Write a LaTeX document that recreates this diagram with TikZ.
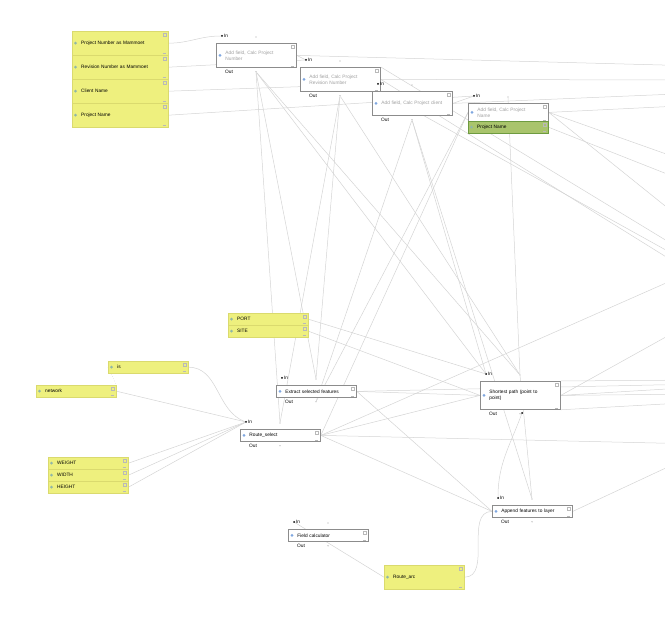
\documentclass[tikz,border=0pt]{standalone}
\usepackage{fontspec}
\setmainfont{Liberation Sans}
\usetikzlibrary{calc,backgrounds}

\definecolor{parfill}{HTML}{EEF07E}
\definecolor{pardraw}{HTML}{DADA6E}
\definecolor{outfill}{HTML}{A9C46C}
\definecolor{outdraw}{HTML}{6E9B40}
\definecolor{wiregray}{HTML}{D4D4D4}
\definecolor{algdraw}{HTML}{8C8C8C}
\definecolor{algtext}{HTML}{A0A0A0}
\definecolor{gearblue}{HTML}{7FA7E0}
\definecolor{plusgreen}{HTML}{8FB6A8}

\begin{document}
\begin{tikzpicture}[x=1pt, y=-1pt,
        font=\fontsize{4.8}{5.8}\selectfont,
        param/.style={rectangle, draw=pardraw, fill=parfill, anchor=north west, minimum width=80, minimum height=12, text width=62, inner xsep=9, inner ysep=0, align=left},
        algo/.style={rectangle, draw=algdraw, fill=white, line width=0.8, anchor=north west, minimum width=80, minimum height=12, text width=62, inner xsep=9, inner ysep=0, align=left},
        result/.style={param, draw=outdraw, fill=outfill},
        wire/.style={draw=wiregray, line width=0.5},
        indot/.style={circle, fill=black, inner sep=0, minimum size=2},
        handle/.style={circle, fill=gray!70, inner sep=0, minimum size=1.4},
        portlbl/.style={inner sep=0, anchor=west},
        deco/.style={draw=gray!55, line width=0.3}
    ]
        \useasboundingbox (0,0) rectangle (665,617);

        % Inputs
        \node[param, minimum width=96, text width=78, minimum height=24] (projnum) at (72,31) {Project Number as Mammoet};
        \node[param, minimum width=96, text width=78, minimum height=24] (revnum) at (72,55) {Revision Number as Mammoet};
        \node[param, minimum width=96, text width=78, minimum height=24] (client) at (72,79) {Client Name};
        \node[param, minimum width=96, text width=78, minimum height=24] (projname) at (72,103) {Project Name};
        \node[param] (port) at (228,313) {PORT};
        \node[param] (site) at (228,325) {SITE};
        \node[param] (is) at (108,361) {is};
        \node[param] (network) at (36,385) {network};
        \node[param] (pweight) at (48,457) {WEIGHT};
        \node[param] (pwidth) at (48,469) {WIDTH};
        \node[param] (pheight) at (48,481) {HEIGHT};
        \node[param, minimum height=24] (routearc) at (384,565) {Route\_arc};

        % Algorithms
        \node[algo, minimum height=24, text=algtext] (calcnum) at (216,43) {Add field, Calc Project\\Number};
        \node[algo, minimum height=24, text=algtext] (calcrev) at (300,67) {Add field, Calc Project\\Revision Number};
        \node[algo, minimum height=24, text=algtext, text width=66, inner xsep=7] (calccli) at (372,91) {\hspace*{2pt}Add field, Calc Project client};
        \node[algo, minimum height=18, text=algtext] (calcname) at (468,103) {Add field, Calc Project\\Name};
        \node[result] (outname) at (468,121) {Project Name};
        \node[algo] (extract) at (276,385) {Extract selected features};
        \node[algo] (routesel) at (240,429) {Route\_select};
        \node[algo, minimum height=28] (shortest) at (480,381) {Shortest path (point to\\point)};
        \node[algo] (append) at (492,505) {Append features to layer};
        \node[algo] (fieldcalc) at (288,529) {Field calculator};

        % In / Out ports
        \foreach \n in {calcnum,calcrev,calccli,calcname,extract,routesel,shortest,append,fieldcalc} {
            \node[indot] (\n-in) at ($(\n.north west)+(6,-7)$) {};
            \node[portlbl] (\n-inl) at ($(\n-in)+(1.8,0)$) {In};
            \node[handle] (\n-top) at ($(\n.north west)+(40,-6)$) {};
            \node[circle, fill=gearblue, inner sep=0, minimum size=3] (\n-icon) at ($(\n.west)+(4,0)$) {};
        }
        \foreach \n in {calcnum,calcrev,calccli,extract,routesel,shortest,append,fieldcalc} {
            \node[portlbl] (\n-outl) at ($(\n.south west)+(9,4)$) {Out};
            \node[handle] (\n-bot) at ($(\n.south west)+(40,4)$) {};
        }
        \node[indot] (shortest-out) at (522,413) {};
        \node[circle, fill=plusgreen, inner sep=0, minimum size=3] (outname-icon) at ($(outname.west)+(3.5,0)$) {};

        % input markers and box handles
        \foreach \n in {projnum,revnum,client,projname,port,site,is,network,pweight,pwidth,pheight,routearc} {
            \node[circle, fill=plusgreen, inner sep=0, minimum size=3] (\n-icon) at ($(\n.west)+(3.5,0)$) {};
        }
        \foreach \n in {projnum,revnum,client,projname,port,site,is,network,pweight,pwidth,pheight,routearc,calcnum,calcrev,calccli,calcname,outname,extract,routesel,shortest,append,fieldcalc} {
            \draw[deco] ($(\n.north east)+(-5.5,2)$) rectangle +(3,3);
            \draw[deco] ($(\n.south east)+(-5.5,-2)$) -- +(3,0);
        }

        % free ends beyond the right border
        \coordinate (e1) at (700,66);
        \coordinate (e2) at (700,80);
        \coordinate (e3) at (700,93);
        \coordinate (e4) at (700,105);
        \coordinate (e5) at (700,166);
        \coordinate (e6) at (700,187);
        \coordinate (e7) at (700,234);
        \coordinate (e8) at (700,261);
        \coordinate (e9) at (700,278);
        \coordinate (e10) at (700,269);
        \coordinate (s1) at (700,318);
        \coordinate (s2) at (700,380);
        \coordinate (s3) at (700,387);
        \coordinate (s4) at (700,394);
        \coordinate (s5) at (700,402);
        \coordinate (x1) at (700,384);
        \coordinate (r1) at (700,444);
        \coordinate (r2) at (700,268);
        \coordinate (a1) at (700,452);

        \begin{scope}[on background layer]
            % inputs to the field steps
            \draw[wire] (projnum.east) to[out=0, in=180] (calcnum-in);
            \draw[wire] (revnum.east) -- (calcrev-in);
            \draw[wire] (client.east) -- (calccli-in);
            \draw[wire] (projname.east) -- (calcname-in);
            \draw[wire] (calcnum.east) -- (calcrev-in);
            \draw[wire] (calcrev.east) -- (calccli-in);
            \draw[wire] (calccli.east) -- (calcname-in);

            % field steps to the right
            \draw[wire] (calcnum.east) -- (e1);
            \draw[wire] (calcrev.east) -- (e2);
            \draw[wire] (calccli.east) -- (e3);
            \draw[wire] (calcname.east) -- (e4);
            \draw[wire] (calcname.east) -- (e5);
            \draw[wire] (outname.east) -- (e6);
            \draw[wire] (calcname.east) -- (e7);
            \draw[wire] (calcrev.north east) -- (e8);
            \draw[wire] (calcrev.east) -- (e9);
            \draw[wire] (calcrev.south east) -- (e10);

            % field steps down to the routing steps
            \draw[wire] (calcnum-bot) -- (routesel-top);
            \draw[wire] (calcnum-bot) -- (extract-top);
            \draw[wire] (calcnum-bot) -- (shortest-top);
            \draw[wire] (calcnum-bot) -- (shortest-in);
            \draw[wire] (calcrev-bot) -- (extract-top);
            \draw[wire] (calcrev-bot) -- (routesel-top);
            \draw[wire] (calcrev-bot) -- (shortest-top);
            \draw[wire] (calccli-bot) -- (extract-bot);
            \draw[wire] (calccli-bot) -- (shortest-in);
            \draw[wire] (calccli-bot) -- (append-top);
            \draw[wire] (calcname.west) -- (routesel.east);
            \draw[wire] (calcname.west) -- (extract-bot);
            \draw[wire] (calcname-top) -- (shortest-top);

            % parameters into routing
            \draw[wire] (is.east) to[out=0, in=160] (routesel-in);
            \draw[wire, dotted] (is.west) -- (network.north east);
            \draw[wire] (network.east) -- (routesel-in);
            \draw[wire] (pweight.east) -- (routesel-in);
            \draw[wire] (pwidth.east) -- (routesel-in);
            \draw[wire] (pheight.east) -- (routesel-in);
            \draw[wire] (port.east) -- (shortest-in);
            \draw[wire] (site.east) -- (shortest.west);

            % routing steps
            \draw[wire] (extract.east) -- (shortest.west);
            \draw[wire] (extract.east) -- (x1);
            \draw[wire] (extract.east) -- (append.west);
            \draw[wire] (routesel.east) -- (shortest.west);
            \draw[wire] (routesel.east) -- (r1);
            \draw[wire] (routesel.east) -- (r2);
            \draw[wire] (routesel.east) -- (append.west);
            \draw[wire] (shortest.east) -- (s1);
            \draw[wire] (shortest.north east) -- (s2);
            \draw[wire] (shortest.east) -- (s3);
            \draw[wire] (shortest.east) -- (s4);
            \draw[wire] (shortest.south east) -- (s5);
            \draw[wire] (shortest-top) -- (append-top);
            \draw[wire] (shortest-out) to[out=250, in=90] (append-in);
            \draw[wire] (append.east) -- (a1);

            % route arc
            \draw[wire] (fieldcalc-in) -- (routearc.west);
            \draw[wire] (routearc.east) to[out=0, in=180] (append.west);
        \end{scope}
    \end{tikzpicture}
\end{document}
